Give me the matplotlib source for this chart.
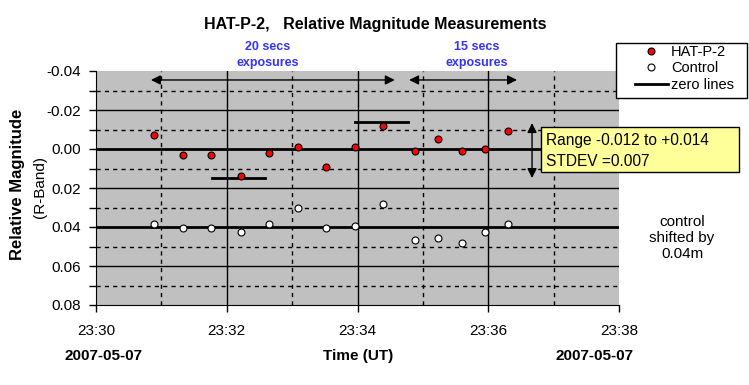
import numpy as np
import matplotlib.pyplot as plt
from matplotlib.patches import Rectangle

plt.rcParams['font.family'] = ['Liberation Sans', 'DejaVu Sans']

# observation times (UT, 2007-05-07)
times = ["23:30:53", "23:31:20", "23:31:46", "23:32:13", "23:32:39", "23:33:05", "23:33:31",
         "23:33:58", "23:34:23", "23:34:53", "23:35:14", "23:35:36", "23:35:57", "23:36:18"]
hat_p2 = [-0.007, 0.003, 0.003, 0.014, 0.002, -0.001, 0.009,
          -0.001, -0.012, 0.001, -0.005, 0.001, 0.000, -0.009]
control = [0.0385, 0.0405, 0.0405, 0.0425, 0.0385, 0.030, 0.0405,
           0.0395, 0.028, 0.0467, 0.0456, 0.048, 0.0426, 0.0385]
zero_levels = [0.0, 0.04]
x_ticks = ["23:30", "23:32", "23:34", "23:36", "23:38"]
y_ticks = [-0.04, -0.02, 0.00, 0.02, 0.04, 0.06, 0.08]
# range markers: (start, end, level) in minutes after 23:30
range_lines = [(1.77, 2.58, 0.015), (3.96, 4.77, -0.014)]
exposure_spans = [(0.84, 4.57), (4.79, 6.44)]


def to_min(s):
    h, m, sec = [int(v) for v in s.split(":")]
    return (h * 60 + m + sec / 60.0) - (23 * 60 + 30)


t = np.array([to_min(s) for s in times])
W, H = 749, 385

fig = plt.figure(figsize=(7.49, 3.85), dpi=100)
ax = fig.add_axes([96 / W, 1 - 305 / H, 523 / W, 234 / H])
ax.set_facecolor('#c0c0c0')

ax.set_xlim(0, 8)
ax.set_ylim(0.08, -0.04)

# grid
for y in np.arange(-0.03, 0.08, 0.02):
    ax.axhline(y, color='black', lw=1, ls=(0, (3, 3)), zorder=1)
for y in [-0.02, 0.02, 0.06]:
    ax.axhline(y, color='black', lw=1, zorder=1)
for x in [1, 3, 5, 7]:
    ax.axvline(x, color='black', lw=1, ls=(0, (3, 3)), zorder=1)
for x in [2, 4, 6]:
    ax.axvline(x, color='black', lw=1, zorder=1)
for z in zero_levels:
    ax.axhline(z, color='black', lw=2, zorder=2)

for x0, x1, y in range_lines:
    ax.plot([x0, x1], [y, y], color='black', lw=2, zorder=2)

ax.plot(t, hat_p2, 'o', ms=5, mfc='red', mec='black', mew=0.8, zorder=4)
ax.plot(t, control, 'o', ms=5, mfc='white', mec='black', mew=0.8, zorder=4)

for x0, x1 in exposure_spans:
    ax.annotate('', xy=(x0, -0.0354), xytext=(x1, -0.0354),
                arrowprops=dict(arrowstyle='<|-|>', color='black', lw=1,
                                mutation_scale=14, shrinkA=0, shrinkB=0))
ax.annotate('', xy=(6.67, -0.0133), xytext=(6.67, 0.0149),
            arrowprops=dict(arrowstyle='<|-|>', color='black', lw=1,
                            mutation_scale=14, shrinkA=0, shrinkB=0))

ax.set_xticks(range(0, 9, 2))
ax.set_xticklabels(x_ticks)
ax.set_yticks(y_ticks)
ax.set_yticklabels(["%.2f" % v for v in y_ticks])
ax.set_yticks(np.arange(-0.03, 0.08, 0.02), minor=True)
ax.tick_params(axis='both', direction='out', length=5, width=1, labelsize=11)
ax.tick_params(axis='y', which='minor', direction='out', length=5, width=1)
ax.tick_params(axis='x', pad=9)
ax.tick_params(axis='y', pad=6)
for s in ['top', 'right']:
    ax.spines[s].set_visible(False)

# legend (frame drawn separately to match the box size)
fig.patches.append(Rectangle((616 / W, 1 - 98 / H), 131 / W, 55 / H,
                             transform=fig.transFigure, facecolor='white',
                             edgecolor='black', lw=1, zorder=0))
h1, = ax.plot([], [], 'o', ms=5, mfc='red', mec='black', mew=0.8)
h2, = ax.plot([], [], 'o', ms=5, mfc='white', mec='black', mew=0.8)
h3, = ax.plot([], [], color='black', lw=2)
fig.legend([h1, h2, h3], ['HAT-P-2', 'Control', 'zero lines'],
           loc='upper left', bbox_to_anchor=(635 / W, 1 - 45 / H),
           fontsize=10.5, frameon=False, handlelength=2.26,
           labelspacing=0.17, borderpad=0, handletextpad=0.2, borderaxespad=0)

# texts
fig.text(375 / W, 1 - 25 / H, 'HAT-P-2,   Relative Magnitude Measurements',
         ha='center', va='center', fontsize=11.5, fontweight='bold')
blue = '#3333ff'
for xc, lab in [(268, '20 secs'), (477, '15 secs')]:
    fig.text(xc / W, 1 - 47 / H, lab, ha='center', va='center',
             fontsize=9, fontweight='bold', color=blue)
    fig.text(xc / W, 1 - 63 / H, 'exposures', ha='center', va='center',
             fontsize=9, fontweight='bold', color=blue)

fig.text(18 / W, 1 - 184 / H, 'Relative Magnitude', rotation=90,
         ha='center', va='center', fontsize=12, fontweight='bold')
fig.text(40 / W, 1 - 187 / H, '(R-Band)', rotation=90,
         ha='center', va='center', fontsize=11)

fig.text(103 / W, 1 - 356 / H, '2007-05-07', ha='center', va='center',
         fontsize=11, fontweight='bold')
fig.text(358 / W, 1 - 356 / H, 'Time (UT)', ha='center', va='center',
         fontsize=11, fontweight='bold')
fig.text(594 / W, 1 - 356 / H, '2007-05-07', ha='center', va='center',
         fontsize=11, fontweight='bold')

fig.text(682 / W, 1 - 238 / H, 'control\nshifted by\n0.04m', ha='center',
         va='center', fontsize=11, linespacing=1.2)

# range / stdev box
fig.patches.append(Rectangle((541 / W, 1 - 172 / H), 198 / W, 45 / H,
                             transform=fig.transFigure, facecolor='#ffff99',
                             edgecolor='black', lw=1, zorder=5))
fig.text(546 / W, 1 - 141 / H, 'Range -0.012 to +0.014', ha='left', va='center',
         fontsize=11.2, zorder=6)
fig.text(546 / W, 1 - 161 / H, 'STDEV =0.007', ha='left', va='center',
         fontsize=11.2, zorder=6)

fig.savefig('out.png', dpi=100)
